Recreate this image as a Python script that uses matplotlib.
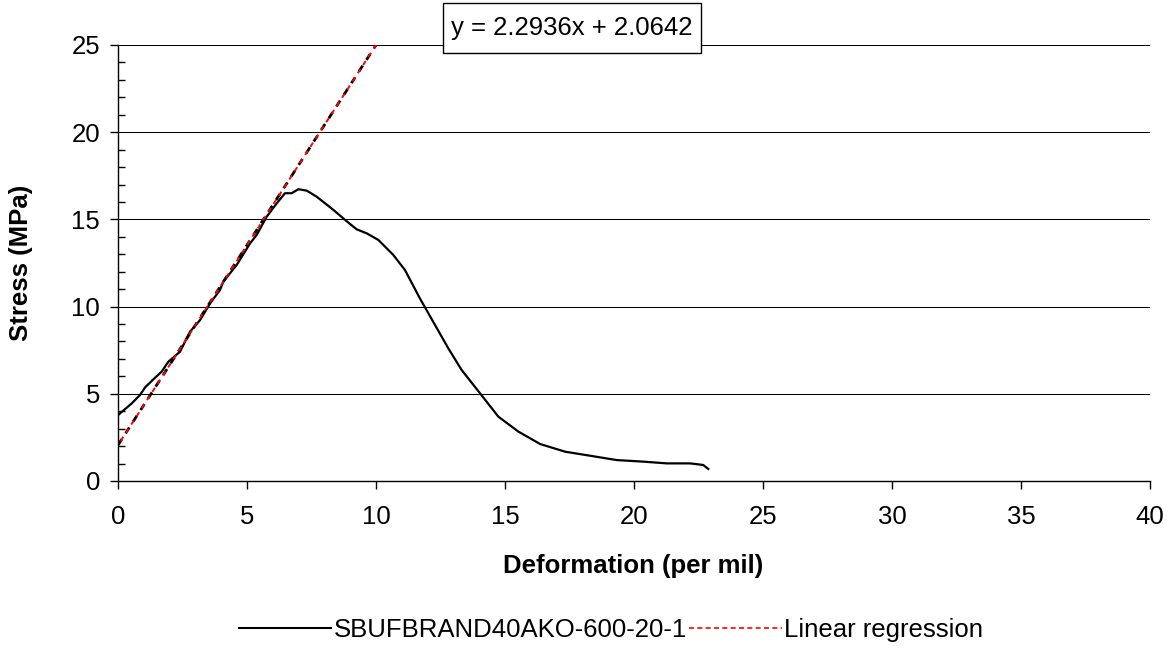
import matplotlib
matplotlib.use("Agg")
import matplotlib.pyplot as plt
from matplotlib.lines import Line2D
from matplotlib.patches import Rectangle
from matplotlib.ticker import MultipleLocator
import numpy as np

plt.rcParams['font.family'] = ['Liberation Sans', 'DejaVu Sans']

# Measured stress-deformation curve
deformation = [0.0, 0.53, 0.85, 1.05, 1.37, 1.69, 1.95, 2.40, 2.79, 3.18, 3.57, 3.95,
               4.08, 4.60, 5.12, 5.37, 5.76, 6.15, 6.47, 6.73, 6.99, 7.31, 7.70, 8.35,
               8.80, 9.25, 9.64, 10.09, 10.67, 11.12, 11.70, 12.20, 12.80, 13.32, 14.03,
               14.74, 15.52, 16.36, 17.33, 18.29, 19.33, 20.36, 21.27, 22.17, 22.68, 22.88]
stress = [3.78, 4.45, 4.93, 5.37, 5.83, 6.27, 6.84, 7.41, 8.56, 9.23, 10.19, 10.95,
          11.43, 12.39, 13.63, 14.10, 15.15, 15.92, 16.50, 16.50, 16.73, 16.65, 16.30, 15.54,
          14.97, 14.43, 14.20, 13.82, 12.96, 12.10, 10.47, 9.17, 7.61, 6.36, 5.03,
          3.69, 2.83, 2.12, 1.68, 1.45, 1.20, 1.11, 1.01, 1.01, 0.92, 0.69]

# Linear regression of the elastic part
slope = 2.2936
intercept = 2.0642

series_label = "SBUFBRAND40AKO-600-20-1"
fit_label = "Linear regression"

FS = 18.5
W, H = 1170, 650

fig = plt.figure(figsize=(W / 100, H / 100), dpi=100)
ax = fig.add_axes([0.1009, 0.26, 0.882, 0.6708])

ax.set_xlim(0, 40)
ax.set_ylim(0, 25)

ax.yaxis.grid(True, color='black', linewidth=0.75)
ax.set_axisbelow(True)
for side in ('top', 'right'):
    ax.spines[side].set_visible(False)
ax.spines['left'].set_linewidth(1.0)
ax.spines['bottom'].set_linewidth(1.0)

ax.xaxis.set_major_locator(MultipleLocator(5))
ax.yaxis.set_major_locator(MultipleLocator(5))
ax.yaxis.set_minor_locator(MultipleLocator(1))
ax.tick_params(axis='both', which='major', direction='out', length=6, width=1,
               labelsize=FS)
ax.tick_params(axis='x', which='major', pad=11)
ax.tick_params(axis='y', which='major', pad=7)
ax.tick_params(axis='y', which='minor', direction='in', length=5, width=1)

ax.plot(deformation, stress, color='black', linewidth=1.6, solid_joinstyle='round')

x_fit = np.array([0.0, (25 - intercept) / slope])
y_fit = slope * x_fit + intercept
ax.plot(x_fit, y_fit, color='black', linewidth=2.0, linestyle=(0, (2.5, 2.5)))
ax.plot(x_fit, y_fit, color='red', linewidth=1.4, linestyle=(2.5, (2.5, 2.5)))

fig.text(0.5415, (H - 566) / H, "Deformation (per mil)", fontsize=FS,
         fontweight='bold', ha='center', va='center')
fig.text(21 / W, 1 - 263 / H, "Stress (MPa)", fontsize=FS, fontweight='bold',
         rotation=90, ha='center', va='center')

# Trendline equation in a framed box
fig.patches.append(Rectangle((443 / W, 1 - 53 / H), 258 / W, 50 / H,
                             transform=fig.transFigure, facecolor='white',
                             edgecolor='black', linewidth=1.0, zorder=5))
fig.text(572 / W, 1 - 28 / H, f"y = {slope}x + {intercept}", fontsize=FS,
         ha='center', va='center', zorder=6)

handles = [Line2D([], [], color='black', linewidth=1.5),
           Line2D([], [], color='red', linewidth=1.2, linestyle=(0, (3, 2)))]
fig.legend(handles, [series_label, fit_label], loc='center',
           bbox_to_anchor=(611 / W, 1 - 630 / H),
           ncol=2, frameon=False, fontsize=FS, handlelength=3.6, handletextpad=0.1,
           columnspacing=0.1, borderpad=0, borderaxespad=0)

fig.savefig("out.png", dpi=100)
